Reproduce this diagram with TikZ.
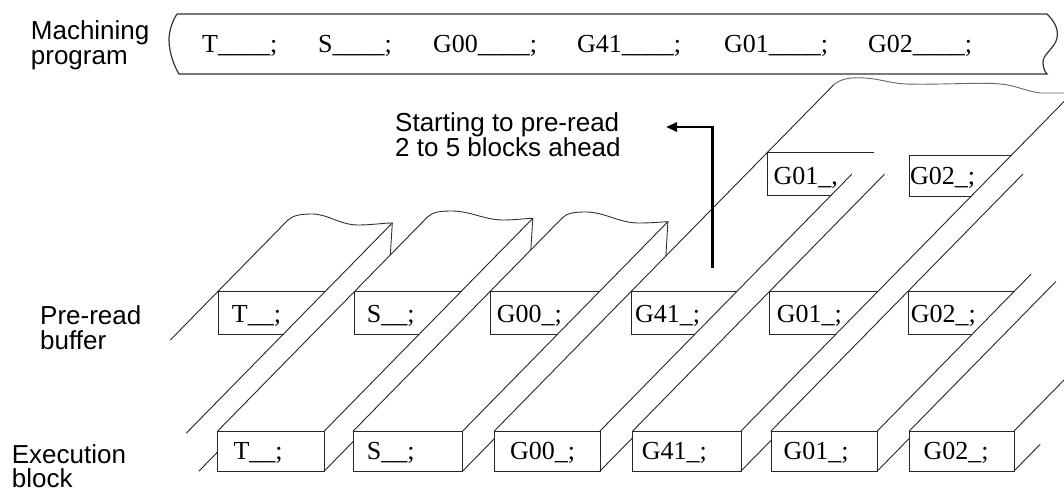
\documentclass[tikz,border=0pt]{standalone}
\usepackage{fontspec}
\setmainfont{Liberation Serif}
\newfontfamily\labfont{Liberation Sans}
\usetikzlibrary{arrows.meta}
\pgfmathdeclarefunction{dg}{2}{\pgfmathparse{#1+(431-#2)/1.02}}
\tikzset{
  diag/.style={line width=0.9pt, draw=black!85, line cap=round},
  boxln/.style={line width=1pt, draw=black!85},
  tapeln/.style={line width=1.2pt, draw=black!80},
  torn/.style={line width=0.9pt, draw=black!80},
  bigtorn/.style={line width=0.9pt, draw=black!60},
  lab/.style={font=\labfont\fontsize{26}{26}\selectfont, anchor=base west, inner sep=0pt},
  code/.style={font=\fontsize{26}{26}\selectfont, anchor=base west, inner sep=0pt},
  flow/.style={line width=2.8pt, draw=black, -{Triangle[length=11pt,width=9pt]}},
}
\begin{document}
\begin{tikzpicture}[x=1pt,y=-1pt]
\useasboundingbox (0,0) rectangle (1064,492);

% ---------- machining program tape ----------
\draw[tapeln] (177,14) -- (1047,14)
  .. controls (1053,20) and (1059,28) .. (1057,38)
  .. controls (1055,48) and (1043,54) .. (1043,62)
  .. controls (1043,68) and (1045,72) .. (1047,74)
  -- (179,74)
  .. controls (174,66) and (169,52) .. (169,40)
  .. controls (169,30) and (173,20) .. (177,14);
\node[code] (pT)   at (202,53) {T\_\_\_\_;};
\node[code] (pS)   at (318,53) {S\_\_\_\_;};
\node[code] (pG00) at (433,53) {G00\_\_\_\_;};
\node[code] (pG41) at (577,53) {G41\_\_\_\_;};
\node[code] (pG01) at (724,53) {G01\_\_\_\_;};
\node[code] (pG02) at (868,53) {G02\_\_\_\_;};

% ---------- left labels ----------
\node[lab] (lm1) at (30.7,40) {Machining};
\node[lab] (lm2) at (30.7,65) {program};
\node[lab] (lp1) at (40,324) {Pre-read};
\node[lab] (lp2) at (40,349) {buffer};
\node[lab] (le1) at (11.7,463) {Execution};
\node[lab] (le2) at (11.7,487) {block};
\node[lab] (ls1) at (395,131) {Starting to pre-read};
\node[lab] (ls2) at (395,156) {2 to 5 blocks ahead};

% ---------- long diagonals of the bars ----------
\foreach \bn/\bL/\bR/\sL/\sR/\eL/\eR in {
   m/81.1/188.4/340/433/220/223,
   0/217.7/324.3/431/431/216.7/218.3,
   1/353.3/462.7/431/431/218.3/221.7,
   2/494.3/600/431/431/85/174.3,
   3/632.7/741/431/431/174.3/101.5,
   4/771/877.3/431/431/174.3/274.3,
   5/909.3/1014/431/431/281.7/380}{
  \coordinate (tl\bn s) at ({dg(\bL,\sL)},\sL);
  \coordinate (tl\bn e) at ({dg(\bL,\eL)},\eL);
  \coordinate (tr\bn s) at ({dg(\bR,\sR)},\sR);
  \coordinate (tr\bn e) at ({dg(\bR,\eR)},\eR);
  \draw[diag] (tl\bn s) -- (tl\bn e);
  \draw[diag] (tr\bn s) -- (tr\bn e);
}

% ---------- execution blocks ----------
\foreach \l/\r/\nx in {217.7/324.3/353.3, 353.3/462.7/494.3, 494.3/600/632.7,
                       632.7/741/771, 771/877.3/909.3, 909.3/1014/1040}{
  \draw[boxln] (\l,431) rectangle (\r,471);
  \draw[diag] (\r,471) -- (\nx,{471-(\nx-\r)*1.02});
}
\draw[diag] (199,471) -- (217.7,451.9);
\node[code] (eT)   at (233.3,459) {T\_\_;};
\node[code] (eS)   at (366.7,459) {S\_\_;};
\node[code] (eG00) at (510,459)   {G00\_;};
\node[code] (eG41) at (641.7,459) {G41\_;};
\node[code] (eG01) at (783.3,459) {G01\_;};
\node[code] (eG02) at (923.3,459) {G02\_;};

% ---------- pre-read buffer boxes ----------
\foreach \bL/\bR in {81.1/188.4, 217.7/324.3, 353.3/462.7, 494.3/600, 632.7/741, 771/877.3}{
  \draw[boxln] ({dg(\bR,291)},291) -- ({dg(\bL,291)},291)
     -- ({dg(\bL,291)},334) -- ({dg(\bR,334)},334);
}
\node[code] (rT)   at (231.7,322) {T\_\_;};
\node[code] (rS)   at (366.7,322) {S\_\_;};
\node[code] (rG00) at (496.7,322) {G00\_;};
\node[code] (rG41) at (635,322)   {G41\_;};
\node[code] (rG01) at (776.7,322) {G01\_;};
\node[code] (rG02) at (910.7,322) {G02\_;};

% ---------- blocks being pre-read ----------
\draw[boxln] ({dg(600,152)},152) -- ({dg(494.3,152)},152)
   -- ({dg(494.3,152)},195) -- ({dg(600,195)},195);
\draw[boxln] ({dg(741,155)},155) -- (909.3,155) -- (909.3,196) -- ({dg(741,196)},196);
\node[code] (uG01) at (773.3,184) {G01\_,};
\node[code] (uG02) at (910,184)   {G02\_;};

% ---------- torn ends ----------
\coordinate (tkm) at (390.3,255);
\coordinate (tk0) at (530.8,249.9);
\coordinate (tk1) at (665.9,256);
\draw[torn] (tlme) .. controls (293,215.5) and (300,214) .. (312,214)
   .. controls (328,214) and (340,225) .. (358,225)
   .. controls (372,225) and (383,223) .. (trme) -- (tkm);
\draw[torn] (tl0e) .. controls (433,212) and (440,211) .. (452,211)
   .. controls (470,211) and (485,220) .. (503,220)
   .. controls (515,220) and (525,218.5) .. (tr0e) -- (tk0);
\draw[torn] (tl1e) .. controls (567,213) and (574,212) .. (586,212)
   .. controls (604,212) and (620,223) .. (638,223)
   .. controls (652,223) and (661,222) .. (tr1e) -- (tk1);
\coordinate (bigend) at (1064,93);
\draw[bigtorn] (tl2e) .. controls (840,79) and (850,77) .. (865,78)
   .. controls (880,79) and (890,83) .. (905,84)
   .. controls (940,85) and (980,82) .. (1000,84)
   .. controls (1015,85) and (1025,91) .. (1040,93) -- (bigend);

% ---------- arrow ----------
\coordinate (afoot) at (712.5,268);
\coordinate (acorner) at (712.5,127);
\coordinate (atip) at (666,127);
\draw[flow] (afoot) -- (acorner) -- (atip);
\end{tikzpicture}
\end{document}
